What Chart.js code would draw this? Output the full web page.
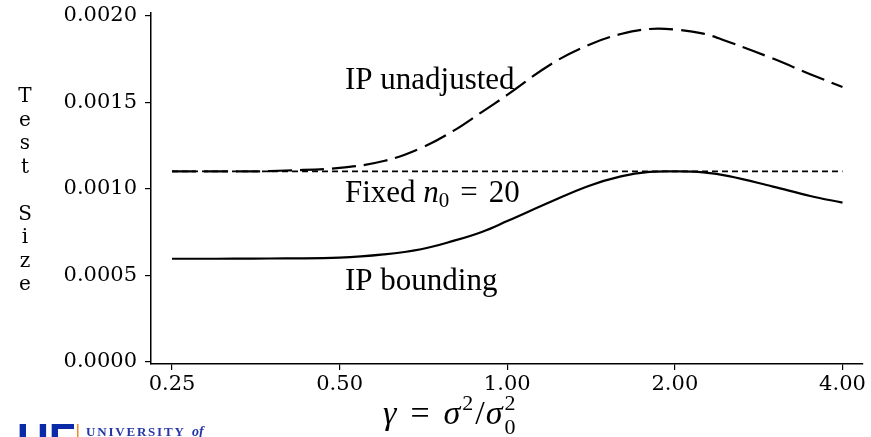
<!DOCTYPE html>
<html>
<head>
<meta charset="utf-8">
<script src="https://cdn.jsdelivr.net/npm/chart.js@4.4.1/dist/chart.umd.min.js"></script>
<style>
html,body{margin:0;padding:0;background:#fff;}
#wrap{width:871px;height:437px;position:relative;}
</style>
</head>
<body>
<div id="wrap"><canvas id="c" width="871" height="437"></canvas></div>
<script>
// ---- data ----
const gammaValues = [0.25,0.3,0.35,0.4,0.5,0.6,0.7,0.8,0.9,1.0,1.2,1.4,1.6,1.8,2.0,2.25,2.5,3.0,3.5,4.0];
const ipUnadjusted = [0.00110,0.00110,0.00110,0.001105,0.00112,0.00116,0.001235,0.001334,0.001443,0.001542,0.001721,0.001831,0.001894,0.001923,0.001920,0.001896,0.001848,0.001752,0.001662,0.001588];
const ipBounding = [0.000595,0.000595,0.000596,0.000597,0.000601,0.000620,0.000650,0.000698,0.000750,0.000813,0.000926,0.001016,0.001071,0.001097,0.001100,0.001094,0.001073,0.001012,0.000958,0.000919];
const fixedN0 = [0.0011,0.0011,0.0011,0.0011,0.0011,0.0011,0.0011,0.0011,0.0011,0.0011,0.0011,0.0011,0.0011,0.0011,0.0011,0.0011,0.0011,0.0011,0.0011,0.0011];
const xTicks = [0.25,0.5,1,2,4];
const yTicks = [0,0.0005,0.001,0.0015,0.002];
const yTitleLetters = ['T','e','s','t','','S','i','z','e'];

const toPts = arr => gammaValues.map((g,i)=>({x:g,y:arr[i]}));
const SERIF = '"Liberation Serif","Times New Roman",serif';
const TICKFONT = '"DejaVu Serif",serif';

function drawRun(ctx, parts, x, y){
  for(const p of parts){
    ctx.font = p.font;
    ctx.fillText(p.t, x, y + (p.dy||0));
    x += ctx.measureText(p.t).width + (p.gap||0);
  }
  return x;
}

const annot = {
  id:'annot',
  afterDraw(chart){
    const ctx = chart.ctx;
    ctx.save();
    ctx.fillStyle = '#000';
    ctx.textAlign = 'left';
    ctx.textBaseline = 'alphabetic';
    // curve labels
    ctx.font = `31px ${SERIF}`;
    ctx.fillText('IP unadjusted', 345, 89);
    ctx.fillText('IP bounding', 345, 290);
    drawRun(ctx, [
      {t:'Fixed ', font:`31px ${SERIF}`},
      {t:'n', font:`italic 31px ${SERIF}`},
      {t:'0', font:`21px ${SERIF}`, dy:5, gap:11},
      {t:'=', font:`31px ${SERIF}`, gap:11},
      {t:'20', font:`31px ${SERIF}`}
    ], 345, 202);
    // x-axis title: gamma = sigma^2 / sigma_0^2
    let x = drawRun(ctx, [
      {t:'γ', font:`italic 34px ${SERIF}`, gap:14},
      {t:'=', font:`34px ${SERIF}`, gap:14},
      {t:'σ', font:`italic 34px ${SERIF}`, gap:2},
      {t:'2', font:`22px ${SERIF}`, dy:-14, gap:2},
      {t:'/', font:`34px ${SERIF}`, gap:1},
      {t:'σ', font:`italic 34px ${SERIF}`, gap:2}
    ], 383, 424);
    ctx.font = `22px ${SERIF}`;
    ctx.fillText('2', x, 410);
    ctx.fillText('0', x, 434);
    // y-axis title, stacked letters
    ctx.textAlign = 'center';
    ctx.font = `20px ${TICKFONT}`;
    yTitleLetters.forEach((L,i)=>{ if(L) ctx.fillText(L, 25, 102 + 23.5*i); });
    // logo at bottom-left
    ctx.textAlign = 'left';
    ctx.fillStyle = '#0a2aa8';
    ctx.font = `bold 44px "Liberation Sans",Arial,sans-serif`;
    ctx.fillText('UF', 17, 455);
    ctx.fillStyle = '#f08a24';
    ctx.fillRect(77, 424, 1.5, 13);
    ctx.fillStyle = '#2436a8';
    ctx.font = `bold 13px ${SERIF}`;
    ctx.letterSpacing = '1.8px';
    ctx.fillText('UNIVERSITY', 86, 436);
    ctx.letterSpacing = '0px';
    ctx.font = `italic bold 14px ${SERIF}`;
    ctx.fillText('of', 192, 436);
    ctx.restore();
  }
};

new Chart(document.getElementById('c'), {
  type:'line',
  data:{
    datasets:[
      {label:'IP unadjusted', data:toPts(ipUnadjusted), borderColor:'#000', borderWidth:2.2, borderDash:[24,8], pointRadius:0, tension:0.4, fill:false},
      {label:'Fixed n0 = 20', data:toPts(fixedN0), borderColor:'#000', borderWidth:1.7, borderDash:[6,4], pointRadius:0, fill:false},
      {label:'IP bounding', data:toPts(ipBounding), borderColor:'#000', borderWidth:2.2, pointRadius:0, tension:0.4, fill:false}
    ]
  },
  options:{
    responsive:false,
    animation:false,
    layout:{padding:{left:0,right:8,top:13,bottom:0}},
    plugins:{legend:{display:false}, tooltip:{enabled:false}, title:{display:false}},
    scales:{
      x:{
        type:'logarithmic', min:0.2292, max:4.354,
        afterBuildTicks: s => { s.ticks = xTicks.map(v=>({value:v})); },
        ticks:{callback:v=>Number(v).toFixed(2), font:{family:TICKFONT,size:21}, color:'#000', maxRotation:0, autoSkip:false, padding:2},
        grid:{drawOnChartArea:false, drawTicks:true, tickLength:6, color:'#000', lineWidth:1.2},
        border:{display:true, color:'#000', width:1.5},
        afterFit: s => { s.height = 73; s.paddingLeft = 0; s.paddingRight = 0; }
      },
      y:{
        type:'linear', min:-0.0000135, max:0.0020156,
        afterBuildTicks: s => { s.ticks = yTicks.map(v=>({value:v})); },
        ticks:{callback:v=>Number(v).toFixed(4), font:{family:TICKFONT,size:21}, color:'#000', padding:8},
        grid:{drawOnChartArea:false, drawTicks:true, tickLength:6, color:'#000', lineWidth:1.2},
        border:{display:true, color:'#000', width:1.5},
        afterFit: s => { s.width = 151; s.paddingTop = 0; s.paddingBottom = 0; }
      }
    }
  },
  plugins:[annot]
});
</script>
</body>
</html>
